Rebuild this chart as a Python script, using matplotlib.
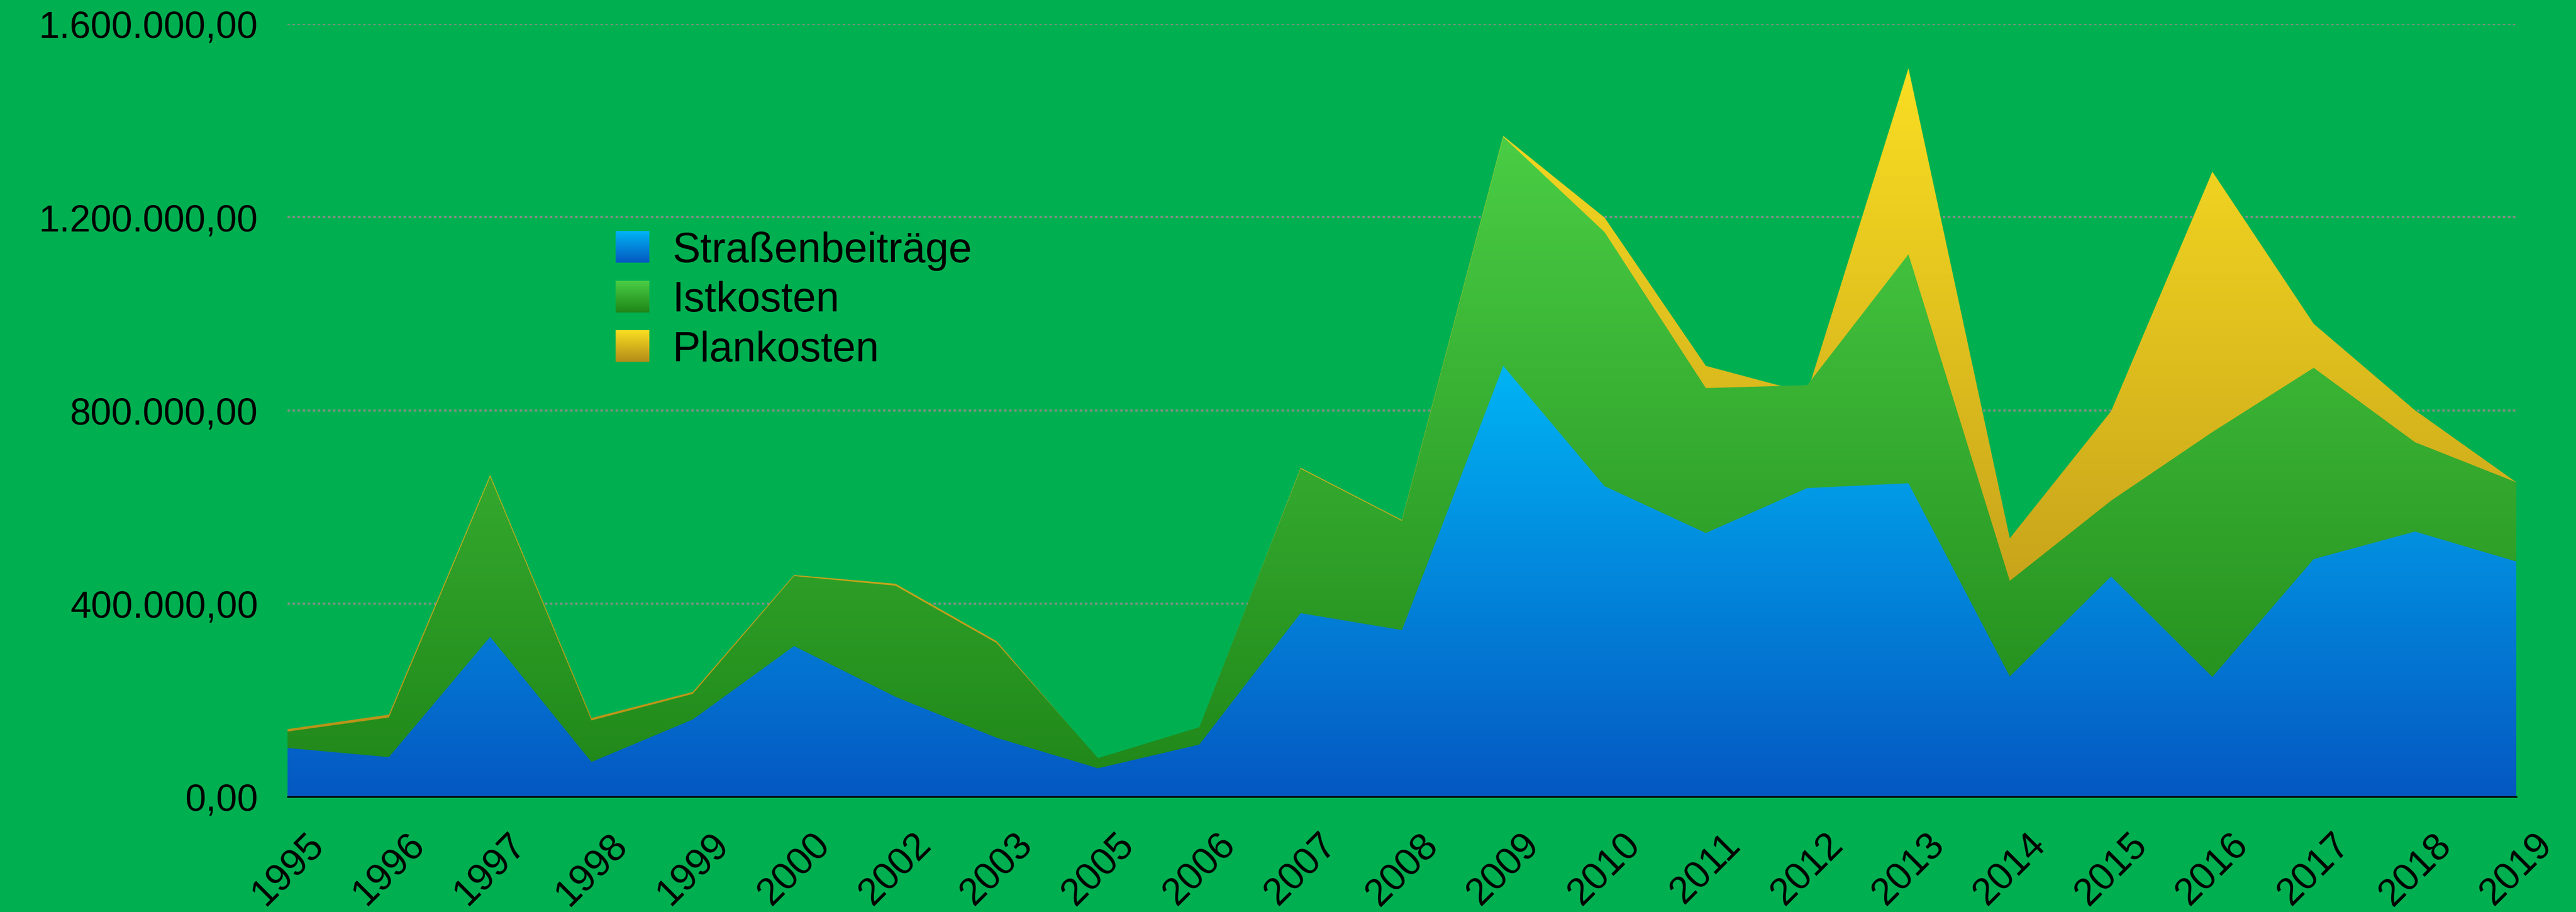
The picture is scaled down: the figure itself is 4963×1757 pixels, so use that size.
#!/usr/bin/env python3
"""Straßenbeiträge vs. Ist-/Plankosten, overlapping area chart with gradients."""
import numpy as np

import matplotlib

matplotlib.use("Agg")
import matplotlib.pyplot as plt
from matplotlib.colors import LinearSegmentedColormap, Normalize
from matplotlib.image import BboxImage
from matplotlib.legend_handler import HandlerBase
from matplotlib.patches import Patch
from matplotlib.ticker import FuncFormatter, MultipleLocator
from matplotlib.transforms import Bbox, TransformedBbox

plt.rcParams["font.family"] = ["Liberation Sans", "DejaVu Sans"]

YEARS = [
    "1995", "1996", "1997", "1998", "1999", "2000", "2002", "2003", "2005",
    "2006", "2007", "2008", "2009", "2010", "2011", "2012", "2013", "2014",
    "2015", "2016", "2017", "2018", "2019",
]

STRASSENBEITRAEGE = [
    101000, 82000, 331000, 72000, 160000, 312000, 207000, 122000, 59000,
    108000, 380000, 345000, 892000, 643000, 546000, 639000, 649000, 249000,
    456000, 248000, 492000, 549000, 487000,
]

ISTKOSTEN = [
    135000, 164000, 662000, 158000, 213000, 457000, 437000, 318000, 80000,
    144000, 679000, 571000, 1366000, 1169000, 846000, 852000, 1123000, 447000,
    613000, 755000, 888000, 734000, 651000,
]

PLANKOSTEN = [
    140000, 170000, 666000, 163000, 217000, 459000, 441000, 322000, 78000,
    142000, 681000, 573000, 1368000, 1199000, 892000, 836000, 1508000, 535000,
    798000, 1294000, 979000, 800000, 651000,
]

LABELS = ["Straßenbeiträge", "Istkosten", "Plankosten"]

BACKGROUND = "#00B050"
GRADIENTS = {
    "Straßenbeiträge": ("#0558C2", "#00B4F4"),
    "Istkosten": ("#1F8618", "#4ACD45"),
    "Plankosten": ("#B48C18", "#F9DE22"),
}

W, H = 4963, 1758


def de_number(value, pos=None):
    text = f"{value:,.2f}"
    return text.replace(",", "X").replace(".", ",").replace("X", ".")


def gradient_cmap(name):
    bottom, top = GRADIENTS[name]
    return LinearSegmentedColormap.from_list(name, [bottom, top])


class GradientHandler(HandlerBase):
    def __init__(self, cmap):
        super().__init__()
        self.cmap = cmap

    def create_artists(self, legend, orig_handle, xdescent, ydescent,
                       width, height, fontsize, trans):
        box = TransformedBbox(Bbox.from_bounds(-xdescent, -ydescent, width, height), trans)
        img = BboxImage(box, cmap=self.cmap, norm=Normalize(0, 1), interpolation="bilinear")
        img.set_data(np.linspace(1, 0, 128).reshape(-1, 1))
        return [img]


def gradient_area(ax, x, values, name, zorder):
    values = np.asarray(values, dtype=float)
    poly = ax.fill_between(x, 0, values, facecolor="none", edgecolor="none")
    grad = np.linspace(0, 1, 256).reshape(-1, 1)
    img = ax.imshow(
        grad,
        extent=(x[0], x[-1], 0, values.max()),
        origin="lower",
        aspect="auto",
        cmap=gradient_cmap(name),
        interpolation="bilinear",
        zorder=zorder,
    )
    img.set_clip_path(poly.get_paths()[0], transform=ax.transData)
    return img


fig = plt.figure(figsize=(W / 100, H / 100), dpi=100, facecolor=BACKGROUND)
ax = fig.add_axes([554 / W, 1 - 1536 / H, (4848 - 554) / W, (1536 - 47) / H])
ax.set_facecolor(BACKGROUND)

x = np.arange(len(YEARS), dtype=float)
gradient_area(ax, x, PLANKOSTEN, "Plankosten", 1)
gradient_area(ax, x, ISTKOSTEN, "Istkosten", 2)
gradient_area(ax, x, STRASSENBEITRAEGE, "Straßenbeiträge", 3)

ax.set_xlim(x[0], x[-1])
ax.set_ylim(0, 1600000)
ax.yaxis.set_major_locator(MultipleLocator(400000))
ax.yaxis.set_major_formatter(FuncFormatter(de_number))
ax.set_xticks(x, YEARS)

ax.grid(axis="y", color="#8C8C8C", linewidth=2.8, linestyle=(0, (1.2, 1.3)), zorder=0.5)
ax.set_axisbelow(True)

for side in ("left", "right", "top"):
    ax.spines[side].set_visible(False)
ax.spines["bottom"].set_color("black")
ax.spines["bottom"].set_linewidth(2.2)
ax.spines["bottom"].set_zorder(5)

ax.tick_params(axis="y", length=0, pad=41, labelsize=52, labelcolor="black")
ax.tick_params(axis="x", length=0, pad=41, labelsize=53, labelcolor="black", labelrotation=45)

handles = [Patch(label=name) for name in LABELS]
handler_map = {h: GradientHandler(gradient_cmap(h.get_label())) for h in handles}
ax.legend(
    handles=handles,
    labels=LABELS,
    handler_map=handler_map,
    loc="upper left",
    bbox_to_anchor=(1186 / W, 1 - 446 / H),
    bbox_transform=fig.transFigure,
    frameon=False,
    fontsize=58,
    borderpad=0,
    borderaxespad=0,
    handlelength=0.8,
    handleheight=0.78,
    handletextpad=0.56,
    labelspacing=0.24,
)

fig.savefig("out.png", dpi=100, facecolor=BACKGROUND)
